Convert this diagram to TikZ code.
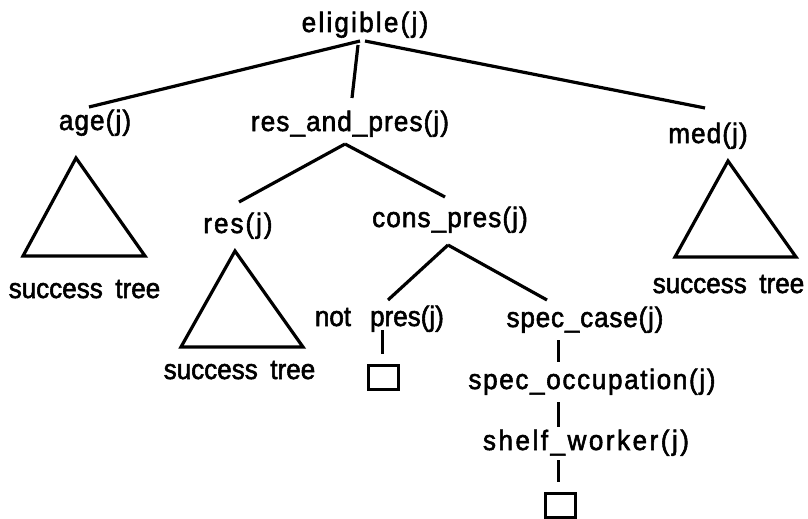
\documentclass[tikz,border=0pt]{standalone}
\usepackage{fontspec}
\setmainfont{Liberation Sans}[FakeStretch=0.93, FakeBold=2]
\usetikzlibrary{calc}

\begin{document}
\begin{tikzpicture}[x=1pt, y=-1pt, line width=3.2pt,
  lbl/.style={inner sep=3pt, anchor=base,
    font={\fontsize{28}{33}\selectfont\addfontfeature{LetterSpace=#1}}},
  lbl/.default=4,
  plain/.style={inner sep=3pt, anchor=base, font={\fontsize{28}{33}\selectfont}},
  leaf/.style={draw, line width=3pt, minimum width=30pt, minimum height=24pt, inner sep=0pt},
  tri/.style={line width=3.2pt, line join=miter},
  stem/.style={line width=3pt}]

  \useasboundingbox (0,0) rectangle (808,519);

  % goal labels (placed by their baselines)
  \node[lbl=8] (elig) at (365,32)  {eligible(j)};
  \node[lbl]   (age)  at (95,130)  {age(j)};
  \node[lbl]   (rap)  at (350,131) {res\_and\_pres(j)};
  \node[lbl]   (med)  at (708,143) {med(j)};
  \node[lbl=7] (res)  at (238,233) {res(j)};
  \node[lbl]   (cons) at (450,227) {cons\_pres(j)};
  \node[plain] (notw) at (333,326) {not};
  \node[plain] (pres) at (407,326) {pres(j)};
  \node[lbl=3] (spec) at (585,327) {spec\_case(j)};
  \node[lbl=6] (occ)  at (592,389) {spec\_occupation(j)};
  \node[lbl=9] (shelf) at (586,450) {shelf\_worker(j)};

  % empty leaves
  \node[leaf] (leafA) at (383.5,377) {};
  \node[leaf] (leafB) at (560,505) {};

  % success subtrees
  \draw[tri] (76,158) -- (23,256) -- (145,256) -- cycle;
  \draw[tri] (235,251) -- (181,347) -- (303,347) -- cycle;
  \draw[tri] (728,161) -- (675,257) -- (796,257) -- cycle;
  \node[plain] (stA) at (84.5,298) {success\hspace{0.45em}tree};
  \node[plain] (stB) at (239.5,379) {success\hspace{0.45em}tree};
  \node[plain] (stC) at (728.5,293) {success\hspace{0.45em}tree};

  % tree edges
  \draw ([shift={(-5,9)}]elig.base)  -- ([shift={(-6,-23)}]age.base);
  \draw ([shift={(-7,13)}]elig.base) -- ([shift={(2,-33)}]rap.base);
  \draw ([shift={(0,9)}]elig.base)   -- ([shift={(-3,-35)}]med.base);
  \draw ([shift={(-5,13)}]rap.base)  -- ([shift={(1,-31)}]res.base);
  \draw ([shift={(-5,13)}]rap.base)  -- ([shift={(-5,-30)}]cons.base);
  \draw ([shift={(-2,18)}]cons.base) -- ([shift={(-19,-26)}]pres.base);
  \draw ([shift={(-2,18)}]cons.base) -- ([shift={(-38,-27)}]spec.base);
  \draw[stem] ([shift={(-25,4)}]pres.base)   -- ([shift={(-1.5,-10)}]leafA.north);
  \draw[stem] ([shift={(-27,13)}]spec.base)  -- ([shift={(-34,-27)}]occ.base);
  \draw[stem] ([shift={(-34,13)}]occ.base)   -- ([shift={(-28,-23)}]shelf.base);
  \draw[stem] ([shift={(-28,10)}]shelf.base) -- ([shift={(-2,-10)}]leafB.north);
\end{tikzpicture}
\end{document}
